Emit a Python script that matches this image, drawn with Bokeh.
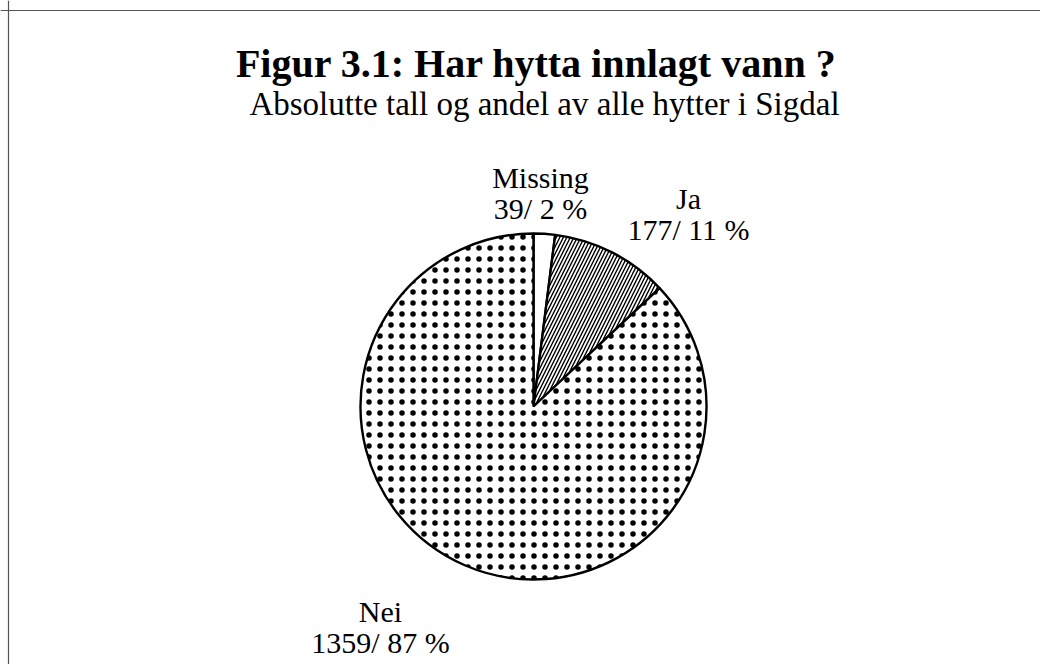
import math
from bokeh.plotting import figure
from bokeh.models import Range1d, Span, ColumnDataSource
from bokeh.core.properties import value
from bokeh.embed import file_html
from bokeh.resources import INLINE

# ---- data ----
categories = ["Missing", "Ja", "Nei"]
counts = [39, 177, 1359]
percents = [2, 11, 87]

title_text = "Figur 3.1: Har hytta innlagt vann ?"
subtitle_text = "Absolutte tall og andel av alle hytter i Sigdal"

# ---- layout (pixel-like coordinates, y negative downwards) ----
W, H = 1040, 664
cx, cy, r = 533, -406, 173
label_x = [540, 688, 380]
label_y1 = [-177, -198, -611]
label_y2 = [-208, -229, -642]

fills = ["white", "white", "white"]
hatches = [" ", "/", "."]
hatch_scales = [8, 7, 11]
hatch_weights = [1, 1.4, 0.6]

# angles: start at 12 o'clock, clockwise
starts, ends = [], []
acc = 0.0
total = float(sum(percents))
for pct in percents:
    a0 = math.pi / 2 - 2 * math.pi * acc / total
    acc += pct
    a1 = math.pi / 2 - 2 * math.pi * acc / total
    starts.append(a0)
    ends.append(a1)

src = ColumnDataSource(dict(
    cat=categories, start=starts, end=ends, fill=fills,
    hatch=hatches, hs=hatch_scales, hw=hatch_weights,
    x=[cx] * 3, y=[cy] * 3,
))

p = figure(width=W, height=H, output_backend="svg", toolbar_location=None,
           x_range=Range1d(0, W), y_range=Range1d(-H, 0),
           min_border=0, outline_line_color=None)
p.axis.visible = False
p.grid.visible = False
p.background_fill_color = "white"
p.border_fill_color = "white"

p.wedge(x="x", y="y", radius=r, start_angle="start", end_angle="end",
        direction="clock", fill_color="fill", line_color="black", line_width=2.4,
        hatch_pattern="hatch", hatch_scale="hs", hatch_weight="hw",
        hatch_color="black", source=src)

# frame (only left and top edges visible in the reference)
p.add_layout(Span(location=8, dimension="height", line_color="#555555", line_width=1.2))
p.add_layout(Span(location=-10, dimension="width", line_color="#555555", line_width=1.2))

serif = value("Liberation Serif")

p.text(x=[536], y=[-63], text=[title_text], text_font=serif,
       text_font_size=value("40px"), text_font_style="bold",
       text_align="center", text_baseline="alphabetic", text_color="black")
p.text(x=[544], y=[-103], text=[subtitle_text], text_font=serif,
       text_font_size=value("33px"), text_align="center",
       text_baseline="alphabetic", text_color="black")

lab1 = categories
lab2 = [f"{c}/ {pc} %" for c, pc in zip(counts, percents)]
p.text(x=label_x, y=label_y1, text=lab1, text_font=serif,
       text_font_size=value("30px"), text_align="center",
       text_baseline="alphabetic", text_color="black")
p.text(x=label_x, y=label_y2, text=lab2, text_font=serif,
       text_font_size=value("30px"), text_align="center",
       text_baseline="alphabetic", text_color="black")

open("out.html", "w").write(file_html(p, INLINE))
